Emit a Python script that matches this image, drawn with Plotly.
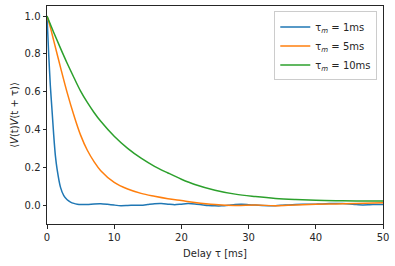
import plotly.graph_objects as go

# Delay grid (ms) and correlation values
tau_1 = [0, 0.25, 0.5, 0.75, 1, 1.25, 1.5, 2, 2.5, 3, 3.5, 4, 4.5, 5, 6, 7, 8, 9, 10,
         11, 12, 13, 14, 15, 16, 17, 18, 19, 20, 21, 22, 23, 24, 25, 26, 27, 28, 29, 30,
         31, 32, 33, 34, 35, 36, 37, 38, 39, 40, 41, 42, 43, 44, 45, 46, 47, 48, 49, 50]
corr_1 = [1.0, 0.8, 0.63, 0.5, 0.37, 0.26, 0.19, 0.095, 0.05, 0.028, 0.016, 0.009, 0.005, 0.003,
          0.003, 0.006, 0.007, 0.004, 0.0, -0.003, -0.002, -0.001, -0.001, 0.003, 0.007, 0.008,
          0.005, 0.002, 0.005, 0.008, 0.006, 0.002, -0.002, -0.004, -0.004, -0.001, 0.003, 0.004,
          0.002, 0.0, -0.002, -0.003, -0.003, -0.001, 0.001, 0.003, 0.004, 0.004, 0.005, 0.006,
          0.008, 0.009, 0.008, 0.006, 0.003, 0.001, 0.002, 0.003, 0.003]

tau_5 = [0, 0.5, 1, 2, 3, 4, 5, 6, 7, 8, 10, 12, 14, 16, 18, 20, 22, 25, 28, 31, 34, 37, 40, 43, 46, 50]
corr_5 = [1.0, 0.94, 0.87, 0.73, 0.595, 0.475, 0.37, 0.29, 0.23, 0.182, 0.12, 0.085, 0.062,
          0.047, 0.034, 0.024, 0.014, 0.003, -0.002, 0.0, -0.003, 0.001, 0.004, 0.006, 0.008, 0.012]

tau_10 = [0, 1, 2, 3, 4, 5, 6, 7, 8, 10, 12, 14, 16, 18, 20, 22, 25, 28, 31, 34, 37, 40, 43, 46, 50]
corr_10 = [1.0, 0.913, 0.83, 0.75, 0.675, 0.603, 0.543, 0.49, 0.443, 0.364, 0.3, 0.248,
           0.205, 0.17, 0.137, 0.109, 0.079, 0.058, 0.045, 0.035, 0.029, 0.025, 0.023, 0.022, 0.022]

names = ["τ<sub><i>m</i></sub> = 1ms", "τ<sub><i>m</i></sub> = 5ms", "τ<sub><i>m</i></sub> = 10ms"]
colors = ["#1f77b4", "#ff7f0e", "#2ca02c"]
smooth = [0.6, 1.0, 1.0]

x_ticks = [0, 10, 20, 30, 40, 50]
y_ticks = [0.0, 0.2, 0.4, 0.6, 0.8, 1.0]

fig = go.Figure()
for t, c, n, col, s in zip([tau_1, tau_5, tau_10], [corr_1, corr_5, corr_10], names, colors, smooth):
    fig.add_trace(go.Scatter(x=t, y=c, mode="lines", name=n,
                             line=dict(color=col, width=1.5, shape="spline", smoothing=s)))

font = dict(family="DejaVu Sans", size=10, color="#262626")
axis_common = dict(showline=True, linecolor="#262626", linewidth=1, mirror=True,
                   ticks="outside", ticklen=3.5, tickwidth=1, tickcolor="#262626",
                   showgrid=False, zeroline=False, tickfont=font)

fig.update_layout(
    width=395, height=266,
    margin=dict(l=47, r=12, t=6, b=42),
    paper_bgcolor="white", plot_bgcolor="white",
    font=font,
    showlegend=True,
    legend=dict(x=0.983, y=0.975, xanchor="right", yanchor="top",
                bgcolor="rgba(255,255,255,0.8)", bordercolor="#cccccc", borderwidth=1,
                font=dict(family="DejaVu Sans", size=10, color="#262626"),
                itemwidth=30, tracegroupgap=0),
    xaxis=dict(range=[0, 50], tickvals=x_ticks, ticktext=[str(v) for v in x_ticks],
               title=dict(text="Delay τ [ms]", font=font, standoff=8), **axis_common),
    yaxis=dict(range=[-0.1, 1.053], tickvals=y_ticks, ticktext=[f"{v:.1f}" for v in y_ticks],
               title=dict(text="⟨<i>V</i>(t)<i>V</i>(t + τ)⟩", font=font, standoff=4), **axis_common),
)

fig.write_html("out.html")
